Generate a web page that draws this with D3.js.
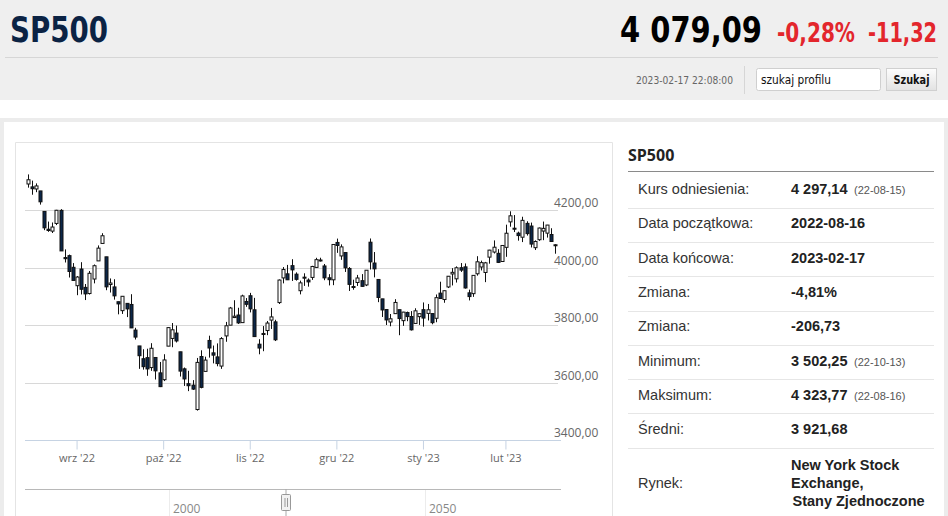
<!DOCTYPE html>
<html>
<head>
<meta charset="utf-8">
<script src="https://cdn.jsdelivr.net/npm/d3@7"></script>
<style>
  html, body { margin: 0; padding: 0; background: #fff; }
  svg { display: block; }
</style>
</head>
<body>
<svg id="page" width="948" height="516"></svg>
<script>
// ---------- DATA ----------
const dates = [
  "2022-08-16","2022-08-17","2022-08-18","2022-08-19","2022-08-22","2022-08-23","2022-08-24","2022-08-25","2022-08-26","2022-08-29","2022-08-30","2022-08-31",
  "2022-09-01","2022-09-02","2022-09-06","2022-09-07","2022-09-08","2022-09-09","2022-09-12","2022-09-13","2022-09-14","2022-09-15","2022-09-16","2022-09-19","2022-09-20","2022-09-21","2022-09-22","2022-09-23","2022-09-26","2022-09-27","2022-09-28","2022-09-29","2022-09-30",
  "2022-10-03","2022-10-04","2022-10-05","2022-10-06","2022-10-07","2022-10-10","2022-10-11","2022-10-12","2022-10-13","2022-10-14","2022-10-17","2022-10-18","2022-10-19","2022-10-20","2022-10-21","2022-10-24","2022-10-25","2022-10-26","2022-10-27","2022-10-28","2022-10-31",
  "2022-11-01","2022-11-02","2022-11-03","2022-11-04","2022-11-07","2022-11-08","2022-11-09","2022-11-10","2022-11-11","2022-11-14","2022-11-15","2022-11-16","2022-11-17","2022-11-18","2022-11-21","2022-11-22","2022-11-23","2022-11-25","2022-11-28","2022-11-29","2022-11-30",
  "2022-12-01","2022-12-02","2022-12-05","2022-12-06","2022-12-07","2022-12-08","2022-12-09","2022-12-12","2022-12-13","2022-12-14","2022-12-15","2022-12-16","2022-12-19","2022-12-20","2022-12-21","2022-12-22","2022-12-23","2022-12-27","2022-12-28","2022-12-29","2022-12-30",
  "2023-01-03","2023-01-04","2023-01-05","2023-01-06","2023-01-09","2023-01-10","2023-01-11","2023-01-12","2023-01-13","2023-01-17","2023-01-18","2023-01-19","2023-01-20","2023-01-23","2023-01-24","2023-01-25","2023-01-26","2023-01-27","2023-01-30","2023-01-31",
  "2023-02-01","2023-02-02","2023-02-03","2023-02-06","2023-02-07","2023-02-08","2023-02-09","2023-02-10","2023-02-13","2023-02-14","2023-02-15","2023-02-16","2023-02-17"
];
const opens = [
  4290.46,4280.40,4273.13,4266.31,4195.08,4133.09,4126.55,4153.26,4198.74,4034.58,4041.25,4000.67,
  3936.73,3994.66,3930.89,3909.43,3959.94,4022.94,4083.67,4037.12,3940.73,3932.41,3880.95,3849.91,3875.23,3871.40,3782.36,3727.14,3682.72,3686.44,3651.94,3687.01,3633.48,
  3609.78,3726.46,3753.25,3771.97,3706.74,3647.51,3595.86,3590.83,3506.00,3690.41,3638.65,3746.26,3703.11,3689.05,3657.10,3762.01,3799.44,3825.97,3834.69,3808.26,3881.85,
  3901.79,3852.90,3733.25,3766.98,3780.71,3817.02,3810.94,3878.00,3963.72,3977.97,4006.41,3976.82,3919.26,3966.39,3956.23,3965.51,4000.30,4023.34,4005.36,3964.19,3957.18,
  4087.14,4040.17,4052.02,3996.63,3933.28,3947.79,3954.17,3939.29,4088.00,4015.54,3958.37,3890.91,3853.79,3810.47,3839.49,3853.26,3815.11,3843.34,3829.56,3805.45,3829.06,
  3853.29,3840.36,3839.74,3823.37,3910.82,3888.57,3932.35,3977.57,3960.60,3999.28,4002.25,3911.84,3909.04,3978.14,4001.74,3982.71,4036.08,4053.72,4049.27,4020.85,
  4070.07,4158.68,4136.69,4119.57,4105.35,4153.47,4144.25,4068.92,4096.62,4126.70,4119.50,4114.75,4077.39
];
const highs = [
  4323.77,4302.18,4292.53,4266.31,4195.08,4159.77,4156.56,4200.54,4203.04,4062.99,4044.98,4015.37,
  3970.23,4018.43,3942.55,3987.89,4010.50,4076.81,4119.28,4037.12,3961.94,3959.14,3880.95,3900.45,3876.01,3907.07,3790.28,3727.14,3715.67,3717.53,3736.74,3687.01,3671.44,
  3698.35,3791.92,3806.91,3797.93,3706.74,3652.17,3640.66,3608.34,3685.41,3712.00,3689.73,3762.79,3728.58,3736.00,3757.89,3810.74,3862.85,3886.15,3859.95,3905.42,3893.73,
  3911.79,3894.44,3750.59,3796.34,3813.95,3859.40,3818.20,3958.33,4001.48,4008.97,4028.84,3983.09,3954.33,3979.89,3962.00,4005.88,4033.78,4034.02,4012.27,3976.77,4080.11,
  4100.51,4080.48,4052.45,4001.51,3957.57,3974.19,3977.02,3990.71,4100.96,4053.76,3958.37,3890.91,3854.86,3838.24,3889.82,3853.26,3845.80,3846.65,3848.32,3858.19,3839.85,
  3878.46,3873.16,3839.74,3906.19,3950.57,3919.83,3970.07,3997.76,4003.95,4015.39,4014.16,3922.94,3972.96,4039.31,4023.92,4019.55,4061.57,4094.21,4063.85,4077.16,
  4148.95,4195.44,4182.36,4124.63,4176.54,4160.77,4156.23,4094.36,4138.90,4159.77,4148.11,4136.54,4081.51
];
const lows = [
  4277.77,4253.08,4261.98,4218.70,4129.86,4124.03,4119.97,4147.59,4057.66,4017.42,3965.21,3954.53,
  3903.65,3906.21,3886.75,3906.03,3944.81,4022.94,4083.67,3921.00,3912.93,3888.28,3837.08,3838.50,3827.54,3789.49,3749.45,3647.47,3644.76,3623.29,3640.61,3610.40,3584.13,
  3604.93,3726.46,3722.66,3739.22,3620.73,3588.10,3570.00,3573.86,3502.25,3579.68,3638.65,3686.53,3666.51,3656.44,3647.42,3741.65,3799.44,3824.07,3803.79,3808.26,3863.18,
  3843.80,3758.68,3698.15,3708.84,3764.70,3786.28,3744.22,3873.00,3944.82,3956.40,3953.17,3954.34,3906.54,3935.98,3933.34,3956.88,3998.66,4020.76,3955.77,3937.65,3938.58,
  4050.87,4026.63,3984.49,3918.39,3922.68,3935.83,3933.04,3935.30,3993.03,3965.65,3879.45,3827.91,3800.04,3795.62,3839.49,3764.49,3797.01,3813.22,3780.78,3805.45,3800.34,
  3794.33,3815.77,3802.42,3809.56,3890.42,3877.29,3928.54,3937.56,3947.67,3984.57,3926.59,3885.54,3897.86,3971.64,3989.79,3949.06,4013.29,4048.70,4015.55,4020.44,
  4037.20,4141.88,4123.36,4093.38,4088.39,4111.01,4069.67,4060.79,4092.67,4095.01,4103.98,4089.89,4047.95
];
const closes = [
  4305.20,4274.04,4283.74,4228.48,4137.99,4128.73,4140.77,4199.12,4057.66,4030.61,3986.16,3955.00,
  3966.85,3924.26,3908.19,3979.87,4006.18,4067.36,4110.41,3932.69,3946.01,3901.35,3873.33,3899.89,3855.93,3789.93,3757.99,3693.23,3655.04,3647.29,3719.04,3640.47,3585.62,
  3678.43,3790.93,3783.28,3744.52,3639.66,3612.39,3588.84,3577.03,3669.91,3583.07,3677.95,3719.98,3695.16,3665.78,3752.75,3797.34,3859.11,3830.60,3807.30,3901.06,3871.98,
  3856.10,3759.69,3719.89,3770.55,3806.80,3828.11,3748.57,3956.37,3992.93,3957.25,3991.73,3958.79,3946.56,3965.34,3949.94,4003.58,4027.26,4026.12,3963.94,3957.63,4080.11,
  4076.57,4071.70,3998.84,3941.26,3933.92,3963.51,3934.38,3990.56,4019.65,3995.32,3895.75,3852.36,3817.66,3821.62,3878.44,3822.39,3844.82,3829.25,3783.22,3849.28,3839.50,
  3824.14,3852.97,3808.10,3895.08,3892.09,3919.25,3969.61,3983.17,3999.09,3990.97,3928.86,3898.85,3972.61,4019.81,4016.95,4016.22,4060.43,4070.56,4017.77,4076.60,
  4119.21,4179.76,4136.48,4111.08,4164.00,4117.86,4081.50,4090.46,4137.29,4136.13,4147.60,4090.41,4079.09
];
const yTicks = [3400, 3600, 3800, 4000, 4200];
const monthTickDates = ["2022-09-01","2022-10-03","2022-11-01","2022-12-01","2023-01-03","2023-02-01"];
const monthTickLabels = ["wrz '22","paź '22","lis '22","gru '22","sty '23","lut '23"];
const navTickValues = [2000, 2050];

const headerName = "SP500";
const headerPrice = "4 079,09";
const headerPct = "-0,28%";
const headerChg = "-11,32";
const stamp = "2023-02-17 22:08:00";

const tableLabels = ["Kurs odniesienia:","Data początkowa:","Data końcowa:","Zmiana:","Zmiana:","Minimum:","Maksimum:","Średni:"];
const tableValues = ["4 297,14","2022-08-16","2023-02-17","-4,81%","-206,73","3 502,25","4 323,77","3 921,68"];
const tableNotes  = ["(22-08-15)","","","","","(22-10-13)","(22-08-16)",""];
const marketLines = ["New York Stock","Exchange,","Stany Zjednoczone"];

// ---------- PAGE ----------
const svg = d3.select("#page");
const SANS = "'Liberation Sans', Arial, sans-serif";
const OPEN = "'Open Sans', 'Liberation Sans', sans-serif";
const COND = "'Liberation Sans Narrow', 'DejaVu Sans Condensed', 'Roboto', sans-serif";

// header band
svg.append("rect").attr("x",0).attr("y",0).attr("width",948).attr("height",100).attr("fill","#efefef");
svg.append("line").attr("x1",5).attr("x2",938).attr("y1",57.5).attr("y2",57.5).attr("stroke","#d6d6d6");
svg.append("text").attr("x",10).attr("y",42).text(headerName)
  .attr("font-family",COND).attr("font-weight","bold").attr("font-size",36).attr("fill","#0b2344")
  .attr("textLength",98).attr("lengthAdjust","spacingAndGlyphs");
svg.append("text").attr("x",620).attr("y",42).text(headerPrice)
  .attr("font-family",COND).attr("font-weight","bold").attr("font-size",36).attr("fill","#000")
  .attr("textLength",142).attr("lengthAdjust","spacingAndGlyphs");
svg.append("text").attr("x",777).attr("y",42).text(headerPct)
  .attr("font-family",COND).attr("font-weight","bold").attr("font-size",26).attr("fill","#e3262c")
  .attr("textLength",78).attr("lengthAdjust","spacingAndGlyphs");
svg.append("text").attr("x",868).attr("y",42).text(headerChg)
  .attr("font-family",COND).attr("font-weight","bold").attr("font-size",26).attr("fill","#e3262c")
  .attr("textLength",69).attr("lengthAdjust","spacingAndGlyphs");
svg.append("text").attr("x",636).attr("y",84).text(stamp)
  .attr("font-family",COND).attr("font-size",11).attr("fill","#666")
  .attr("textLength",97).attr("lengthAdjust","spacingAndGlyphs");
svg.append("line").attr("x1",744.5).attr("x2",744.5).attr("y1",66).attr("y2",94).attr("stroke","#d6d6d6");
svg.append("rect").attr("x",756.5).attr("y",68.5).attr("width",124).attr("height",22).attr("rx",2)
  .attr("fill","#fff").attr("stroke","#cfcfcf");
svg.append("text").attr("x",761).attr("y",84).text("szukaj profilu")
  .attr("font-family",COND).attr("font-size",13).attr("fill","#111")
  .attr("textLength",70).attr("lengthAdjust","spacingAndGlyphs");
const grad = svg.append("defs").append("linearGradient").attr("id","btn").attr("x1",0).attr("x2",0).attr("y1",0).attr("y2",1);
grad.append("stop").attr("offset","0%").attr("stop-color","#fdfdfd");
grad.append("stop").attr("offset","100%").attr("stop-color","#e2e2e2");
svg.append("rect").attr("x",886.5).attr("y",68.5).attr("width",50).attr("height",22)
  .attr("fill","url(#btn)").attr("stroke","#d0d0d0");
svg.append("text").attr("x",911.5).attr("y",84).attr("text-anchor","middle").text("Szukaj")
  .attr("font-family",COND).attr("font-weight","bold").attr("font-size",13).attr("fill","#111")
  .attr("textLength",36).attr("lengthAdjust","spacingAndGlyphs");

// panel frame
svg.append("rect").attr("x",0).attr("y",118).attr("width",948).attr("height",4).attr("fill","#ececec");
svg.append("rect").attr("x",0).attr("y",118).attr("width",4).attr("height",398).attr("fill","#ececec");
svg.append("rect").attr("x",944).attr("y",118).attr("width",4).attr("height",398).attr("fill","#ececec");
svg.append("path").attr("d","M15.5,520 V142.5 H612.5 V520").attr("fill","none").attr("stroke","#e4e4e4");

// ---------- CHART ----------
const x = d3.scaleBand().domain(dates).range([25, 558]).padding(0.25);
const cx = d => x(d) + x.bandwidth() / 2;
const y = d3.scaleLinear().domain([3400, 4200]).range([440, 210]);

// grid + labels
const grid = svg.append("g");
grid.selectAll("line").data(yTicks.filter(v => v !== 3400)).join("line")
  .attr("x1",25).attr("x2",558)
  .attr("y1",v => Math.round(y(v)) + 0.5).attr("y2",v => Math.round(y(v)) + 0.5)
  .attr("stroke","#d8d8d8");
grid.selectAll("text").data(yTicks).join("text")
  .attr("x",554).attr("y",v => y(v) - 3)
  .text(v => d3.format(".2f")(v).replace(".", ","))
  .attr("font-family",OPEN).attr("font-size",12).attr("fill","#666");

// x axis
const xAxis = d3.axisBottom(x).tickValues(monthTickDates).tickSizeInner(9).tickSizeOuter(0)
  .tickFormat((d, i) => monthTickLabels[i]);
const ax = svg.append("g").attr("transform","translate(0,440.5)").call(xAxis);
ax.select(".domain").attr("stroke","#c6d3e3").attr("d","M25,0H561");
ax.selectAll(".tick line").attr("stroke","#c6d3e3");
ax.selectAll(".tick text").attr("font-family",OPEN).attr("font-size",11).attr("fill","#666").attr("dy","0.9em");

// candles
const idx = d3.range(dates.length);
const cg = svg.append("g");
cg.selectAll("line").data(idx).join("line")
  .attr("x1", i => Math.round(cx(dates[i])) + 0.5).attr("x2", i => Math.round(cx(dates[i])) + 0.5)
  .attr("y1", i => y(highs[i])).attr("y2", i => y(lows[i]))
  .attr("stroke","#111").attr("stroke-width",1);
cg.selectAll("rect").data(idx).join("rect")
  .attr("x", i => Math.round(cx(dates[i])) - 1)
  .attr("width", 3)
  .attr("y", i => y(Math.max(opens[i], closes[i])))
  .attr("height", i => Math.max(1, Math.abs(y(opens[i]) - y(closes[i]))))
  .attr("fill", i => closes[i] >= opens[i] ? "#ffffff" : "#0c2749")
  .attr("stroke", "#111").attr("stroke-width", 1);

// navigator
const nav = d3.scaleLinear().domain([2000, 2050]).range([169.5, 425.5]);
svg.append("line").attr("x1",25).attr("x2",561).attr("y1",489.5).attr("y2",489.5).attr("stroke","#b8b8b8");
svg.append("g").selectAll("line").data(navTickValues).join("line")
  .attr("x1",v => nav(v)).attr("x2",v => nav(v)).attr("y1",490).attr("y2",516).attr("stroke","#ececec");
svg.append("g").selectAll("text").data(navTickValues).join("text")
  .attr("x",v => nav(v) + 3.5).attr("y",513).text(v => v)
  .attr("font-family",OPEN).attr("font-size",12).attr("fill","#888");
svg.append("line").attr("x1",286).attr("x2",286).attr("y1",489).attr("y2",516).attr("stroke","#aaa");
svg.append("rect").attr("x",281.5).attr("y",494.5).attr("width",9).attr("height",16)
  .attr("fill","#f2f2f2").attr("stroke","#999").attr("rx",1);
svg.append("line").attr("x1",285).attr("x2",285).attr("y1",498).attr("y2",507).attr("stroke","#999");
svg.append("line").attr("x1",287.5).attr("x2",287.5).attr("y1",498).attr("y2",507).attr("stroke","#999");

// ---------- TABLE ----------
const tg = svg.append("g");
tg.append("text").attr("x",628).attr("y",161).text(headerName)
  .attr("font-family",OPEN).attr("font-weight","bold").attr("font-size",16).attr("fill","#222");
tg.append("line").attr("x1",628).attr("x2",934).attr("y1",171.5).attr("y2",171.5).attr("stroke","#8a8a8a");
const rowY = i => 194 + i * 34.3;
tableLabels.forEach((lab, i) => {
  tg.append("text").attr("x",638).attr("y",rowY(i)).text(lab)
    .attr("font-family",SANS).attr("font-size",14.5).attr("fill","#333");
  tg.append("text").attr("x",791).attr("y",rowY(i)).text(tableValues[i])
    .attr("font-family",SANS).attr("font-weight","bold").attr("font-size",14.5).attr("fill","#222");
  if (tableNotes[i]) {
    tg.append("text").attr("x",854).attr("y",rowY(i)).text(tableNotes[i])
      .attr("font-family",SANS).attr("font-size",11).attr("fill","#555");
  }
  tg.append("line").attr("x1",628).attr("x2",934)
    .attr("y1",Math.round(rowY(i) + 13.7) + 0.5).attr("y2",Math.round(rowY(i) + 13.7) + 0.5)
    .attr("stroke","#e6e6e6");
});
tg.append("text").attr("x",638).attr("y",488).text("Rynek:")
  .attr("font-family",SANS).attr("font-size",14.5).attr("fill","#333");
marketLines.forEach((t, k) => {
  tg.append("text").attr("x", k === 2 ? 792.5 : 791).attr("y",470 + k * 18).text(t)
    .attr("font-family",SANS).attr("font-weight","bold").attr("font-size",14.5).attr("fill","#222");
});
</script>
</body>
</html>
